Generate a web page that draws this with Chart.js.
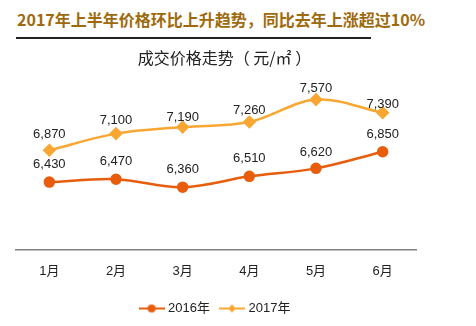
<!DOCTYPE html>
<html>
<head>
<meta charset="utf-8">
<script src="https://cdn.jsdelivr.net/npm/chart.js@4"></script>
<style>
    body { margin: 0; background: #fff; width: 476px; height: 326px; overflow: hidden; position: relative; }
    .heading {
        position: absolute; left: 17px; top: 7px;
        font: bold 16px "Noto Sans CJK SC", sans-serif; color: #9E6A0C;
        white-space: nowrap; line-height: 24px;
    }
    .rule { position: absolute; left: 16px; top: 37px; width: 355px; height: 2px; background: #222; }
    .chartTitle {
        position: absolute; left: 0; top: 45px; width: 449px; text-align: center;
        font: 16px "Noto Sans CJK SC", sans-serif; color: #222; line-height: 24px; white-space: nowrap;
    }
    .chartBox { position: absolute; left: 0; top: 40px; width: 476px; height: 286px; }
</style>
</head>
<body>
<div class="heading">2017年上半年价格环比上升趋势，同比去年上涨超过10%</div>
<div class="rule"></div>
<div class="chartBox"><canvas id="graficoLinha"></canvas></div>
<div class="chartTitle">成交价格走势（ 元/㎡ ）</div>
<script>
const meses = ['1月', '2月', '3月', '4月', '5月', '6月'];
const precos2016 = [6430, 6470, 6360, 6510, 6620, 6850];
const precos2017 = [6870, 7100, 7190, 7260, 7570, 7390];
const nomesSeries = ['2016年', '2017年'];

const corA = '#E85D0C';
const corB = '#F9A632';
// how far above each point its value label sits (px)
const distRotulo = [
    [18, 18, 18, 18, 16, 17],
    [16, 13, 10, 12, 11, 8]
];
const fonteTexto = '"Liberation Sans", "Noto Sans CJK SC", sans-serif';

// little line+marker images for the legend
function iconeLegenda(cor, forma) {
    const c = document.createElement('canvas');
    c.width = 26; c.height = 10;
    const ctx = c.getContext('2d');
    ctx.strokeStyle = cor;
    ctx.lineWidth = 2;
    ctx.beginPath(); ctx.moveTo(0, 5); ctx.lineTo(26, 5); ctx.stroke();
    ctx.fillStyle = cor;
    ctx.beginPath();
    if (forma == 'circle') {
        ctx.arc(13, 5, 4, 0, Math.PI * 2);
    } else {
        ctx.moveTo(13, 1); ctx.lineTo(17, 5); ctx.lineTo(13, 9); ctx.lineTo(9, 5); ctx.closePath();
    }
    ctx.fill();
    return c;
}
const icones = [iconeLegenda(corA, 'circle'), iconeLegenda(corB, 'diamond')];

const rotulos = {
    id: 'rotulos',
    afterDatasetsDraw(chart) {
        const ctx = chart.ctx;
        ctx.save();
        ctx.font = '13px ' + fonteTexto;
        ctx.fillStyle = '#222';
        ctx.textAlign = 'center';
        ctx.textBaseline = 'middle';
        chart.data.datasets.forEach((ds, i) => {
            chart.getDatasetMeta(i).data.forEach((pt, j) => {
                ctx.fillText(ds.data[j].toLocaleString('en-US'), pt.x, pt.y - distRotulo[i][j]);
            });
        });
        ctx.restore();
    }
};

const data = {
    labels: meses,
    datasets: [{
        label: nomesSeries[0],
        data: precos2016,
        borderColor: corA,
        backgroundColor: corA,
        borderWidth: 2.5,
        pointStyle: 'circle',
        pointRadius: 4.5,
        tension: 0.35
    }, {
        label: nomesSeries[1],
        data: precos2017,
        borderColor: corB,
        backgroundColor: corB,
        borderWidth: 2.5,
        pointStyle: 'rectRot',
        pointRadius: 5,
        tension: 0.35
    }]
};

const config = {
    type: 'line',
    data: data,
    plugins: [rotulos],
    options: {
        responsive: false,
        animation: false,
        layout: { padding: { left: 16, right: 60, top: 28.5, bottom: 1 } },
        scales: {
            x: {
                offset: true,
                grid: { display: false, drawTicks: false },
                border: { color: '#808080', width: 1.5 },
                ticks: { color: '#222', padding: 14, font: { size: 13, family: fonteTexto } },
                afterFit: (s) => { s.height -= 3; }
            },
            y: { display: false, min: 5500, max: 8000 }
        },
        plugins: {
            title: { display: false },
            legend: {
                position: 'bottom',
                labels: {
                    usePointStyle: true,
                    pointStyleWidth: 20,
                    color: '#222',
                    padding: 12,
                    font: { size: 13, family: fonteTexto },
                    generateLabels: (chart) => chart.data.datasets.map((ds, i) => ({
                        text: ds.label,
                        pointStyle: icones[i],
                        fillStyle: ds.borderColor,
                        strokeStyle: ds.borderColor,
                        fontColor: '#222',
                        lineWidth: 0,
                        datasetIndex: i
                    }))
                }
            },
            tooltip: { enabled: false }
        }
    }
};

const canvas = document.getElementById('graficoLinha');
canvas.width = 476;
canvas.height = 286;
const grafico = new Chart(canvas, config);
</script>
</body>
</html>
